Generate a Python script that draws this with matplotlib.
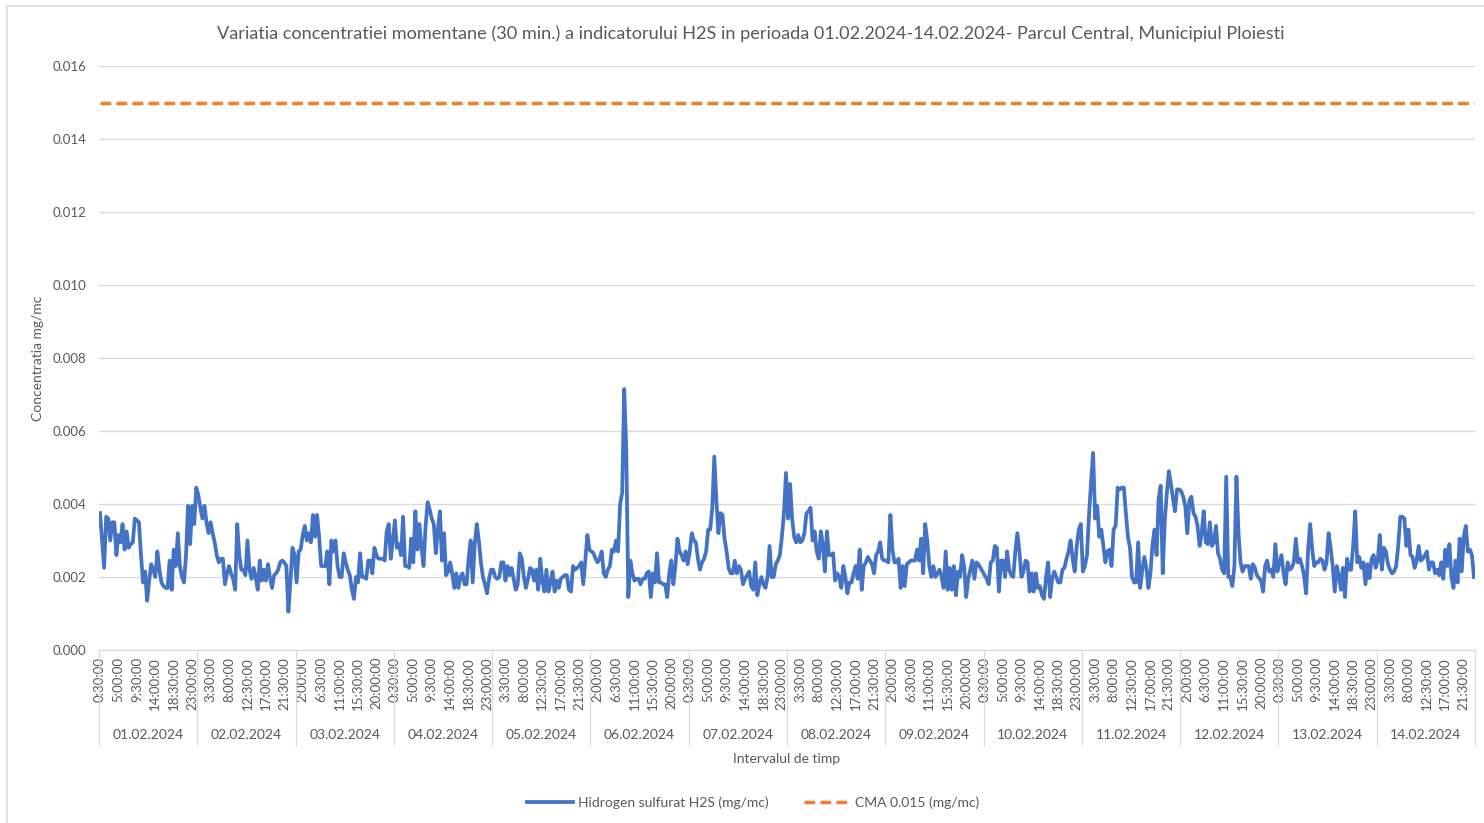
import numpy as np
import pandas as pd
import matplotlib
matplotlib.use('Agg')
import matplotlib.pyplot as plt
import matplotlib.transforms as mtransforms
from matplotlib.lines import Line2D

plt.rcParams['font.family'] = ['Lato', 'DejaVu Sans']

# H2S, 30 min values, in ug/mc (divide by 1000 -> mg/mc)
h2s_01 = [3.75, 3.0, 2.25, 3.65, 3.6, 3.0, 3.5, 3.5, 2.6, 3.15, 2.95, 3.45, 2.75, 3.25, 2.8, 2.9,
          2.95, 3.6, 3.55, 3.5, 2.6, 1.85, 2.15, 1.35, 1.9, 2.35, 2.2, 2.0, 2.7, 2.2, 1.85, 1.75,
          1.7, 1.7, 2.45, 1.65, 2.75, 2.3, 3.2, 2.3, 2.0, 1.85, 2.6, 3.95, 2.9, 3.95, 3.45, 4.45]
h2s_02 = [4.25, 3.9, 3.6, 3.95, 3.5, 3.2, 3.5, 3.2, 2.95, 2.6, 2.4, 2.5, 2.5, 1.8, 2.1, 2.3,
          2.1, 1.95, 1.65, 3.45, 2.6, 2.2, 2.2, 2.05, 3.0, 2.2, 1.95, 2.25, 2.0, 1.65, 2.45, 1.9,
          2.2, 1.9, 2.35, 2.0, 1.7, 2.05, 2.1, 2.2, 2.4, 2.45, 2.4, 2.3, 1.05, 1.9, 2.8, 2.6]
h2s_03 = [1.85, 2.7, 2.75, 3.15, 3.4, 3.0, 3.2, 2.95, 3.7, 3.1, 3.7, 3.1, 2.3, 2.3, 2.3, 2.7,
          1.8, 3.0, 2.7, 3.0, 2.3, 2.0, 2.0, 2.65, 2.4, 2.2, 2.05, 1.65, 1.4, 2.0, 1.85, 2.65,
          2.0, 2.0, 1.95, 2.45, 2.45, 2.1, 2.8, 2.6, 2.5, 2.5, 2.5, 2.45, 3.25, 3.45, 2.5, 3.0]
h2s_04 = [3.55, 2.8, 2.9, 2.6, 3.65, 2.3, 2.3, 2.25, 3.05, 2.4, 3.8, 2.75, 3.45, 2.8, 2.3, 3.4,
          4.05, 3.85, 3.6, 3.45, 2.65, 3.3, 3.8, 2.45, 3.2, 2.05, 2.15, 2.4, 2.1, 1.7, 2.1, 1.7,
          2.0, 2.1, 1.8, 1.8, 2.5, 3.0, 1.85, 2.9, 3.45, 3.0, 2.4, 2.0, 1.8, 1.55, 1.95, 2.2]
h2s_05 = [2.2, 2.0, 1.95, 2.0, 2.4, 2.4, 1.9, 2.3, 2.05, 2.25, 1.95, 1.65, 1.8, 2.65, 2.5, 2.0,
          1.7, 1.95, 2.25, 2.2, 1.9, 2.2, 1.65, 2.5, 1.9, 1.6, 2.2, 1.6, 1.85, 2.15, 1.6, 1.9,
          1.7, 1.95, 2.0, 2.05, 2.05, 1.65, 1.6, 2.3, 2.2, 2.25, 2.3, 2.4, 1.8, 2.45, 3.15, 2.75]
h2s_06 = [2.7, 2.65, 2.5, 2.4, 2.5, 2.7, 2.1, 2.0, 2.2, 2.3, 2.75, 2.7, 3.0, 2.7, 4.0, 4.3,
          7.15, 5.5, 1.45, 2.45, 2.1, 1.9, 1.95, 1.95, 1.8, 1.95, 1.95, 2.1, 2.15, 1.45, 2.1, 1.85,
          2.65, 1.85, 1.85, 1.8, 1.8, 1.45, 2.1, 2.45, 1.8, 2.3, 3.05, 2.7, 2.6, 2.45, 2.7, 2.35]
h2s_07 = [2.7, 3.2, 3.0, 2.95, 2.5, 2.2, 2.4, 2.5, 2.7, 3.3, 3.3, 3.9, 5.3, 4.1, 3.2, 3.75,
          3.7, 3.05, 2.7, 2.25, 2.1, 2.1, 2.45, 2.1, 2.3, 2.2, 1.8, 1.95, 2.05, 2.15, 1.75, 1.65,
          2.4, 1.5, 1.8, 2.0, 1.8, 1.7, 2.0, 2.85, 2.0, 2.0, 2.35, 2.45, 2.6, 3.1, 3.75, 4.85]
h2s_08 = [3.6, 4.55, 3.6, 3.1, 2.95, 3.15, 2.95, 3.0, 3.2, 3.75, 3.8, 3.9, 3.0, 3.25, 2.7, 2.5,
          3.25, 2.9, 2.15, 3.25, 2.6, 2.6, 2.65, 1.9, 2.1, 2.0, 1.7, 2.3, 2.0, 1.55, 1.85, 1.85,
          2.1, 2.3, 1.95, 2.75, 1.65, 2.3, 2.4, 2.55, 2.45, 2.35, 2.1, 2.6, 2.7, 2.95, 2.5, 2.45]
h2s_09 = [2.45, 2.4, 3.7, 2.75, 2.4, 2.4, 2.5, 1.7, 2.3, 1.75, 2.35, 2.4, 2.45, 2.45, 2.45, 2.75,
          2.45, 3.05, 2.1, 3.45, 3.0, 2.3, 2.0, 2.3, 2.0, 2.1, 2.2, 2.0, 1.7, 2.7, 1.65, 2.25,
          1.65, 2.3, 1.5, 2.15, 2.0, 2.6, 2.3, 1.45, 1.95, 2.2, 2.45, 1.95, 2.4, 2.35, 2.25, 2.15]
h2s_10 = [2.05, 1.95, 1.8, 2.4, 2.45, 2.85, 2.8, 1.6, 2.45, 2.45, 2.0, 2.7, 2.2, 2.05, 2.0, 2.7,
          3.2, 2.7, 2.0, 2.15, 2.45, 2.4, 1.6, 2.1, 1.6, 2.1, 1.7, 1.75, 1.5, 1.4, 2.0, 2.4,
          1.45, 1.95, 2.15, 2.0, 1.85, 1.85, 2.2, 2.25, 2.5, 2.7, 3.0, 2.5, 2.15, 2.85, 3.3, 3.45]
h2s_11 = [2.15, 2.3, 2.6, 3.7, 4.6, 5.4, 3.6, 3.95, 3.1, 3.3, 2.85, 2.4, 2.7, 2.75, 2.3, 3.3,
          3.4, 4.45, 4.4, 4.45, 4.45, 3.75, 3.1, 2.8, 2.0, 1.85, 1.85, 2.95, 1.7, 2.2, 2.55, 2.25,
          1.7, 2.1, 2.9, 3.3, 2.6, 4.15, 4.5, 2.1, 3.55, 4.3, 4.9, 4.55, 4.15, 3.8, 4.4, 4.4]
h2s_12 = [4.35, 4.2, 3.95, 3.2, 4.1, 4.2, 3.75, 3.65, 3.4, 2.85, 3.2, 3.8, 2.95, 2.9, 3.5, 2.85,
          2.95, 3.4, 2.65, 2.5, 2.2, 2.1, 4.75, 2.0, 2.0, 1.75, 2.3, 4.75, 3.2, 2.4, 2.15, 2.3,
          2.3, 2.3, 1.95, 2.35, 2.25, 2.05, 1.97, 1.9, 1.6, 2.3, 2.45, 2.15, 2.2, 2.0, 2.9, 2.15]
h2s_13 = [2.4, 2.6, 2.1, 1.8, 2.4, 2.2, 2.25, 2.4, 3.05, 2.4, 2.5, 2.3, 2.05, 1.55, 2.75, 3.45,
          2.75, 2.3, 2.4, 2.4, 2.5, 2.45, 2.2, 2.4, 3.2, 2.8, 2.3, 1.6, 2.3, 2.05, 1.65, 2.25,
          1.45, 2.5, 2.2, 2.2, 2.85, 3.8, 2.4, 2.55, 2.25, 2.4, 1.8, 2.35, 1.97, 2.5, 2.6, 2.25]
h2s_14 = [2.45, 3.15, 2.2, 2.8, 2.7, 2.35, 2.2, 2.1, 2.15, 2.3, 2.85, 3.65, 3.65, 3.6, 2.85, 3.3,
          2.6, 2.55, 2.25, 2.45, 2.85, 2.45, 2.5, 2.6, 2.7, 2.2, 2.4, 2.4, 2.1, 2.2, 2.05, 2.4,
          1.95, 2.75, 2.3, 2.9, 2.0, 1.7, 2.45, 1.85, 3.05, 2.15, 3.1, 3.4, 2.7, 2.75, 2.6, 2.0]

days = ['01.02.2024', '02.02.2024', '03.02.2024', '04.02.2024', '05.02.2024', '06.02.2024',
        '07.02.2024', '08.02.2024', '09.02.2024', '10.02.2024', '11.02.2024', '12.02.2024',
        '13.02.2024', '14.02.2024']
cma = 0.015

h2s = np.concatenate([h2s_01, h2s_02, h2s_03, h2s_04, h2s_05, h2s_06, h2s_07,
                      h2s_08, h2s_09, h2s_10, h2s_11, h2s_12, h2s_13, h2s_14]) / 1000.0
times = pd.date_range('2024-02-01 00:30', periods=len(h2s), freq='30min')
x = np.arange(len(h2s))
per_day = 48

W, H = 1484, 823
grey = '#595959'
light = '#d9d9d9'

fig = plt.figure(figsize=(W / 100, H / 100), dpi=100)
# chart area border (only left and top visible in the picture)
fig.add_artist(Line2D([7 / W, 7 / W], [0, 1 - 6 / H], color=light, lw=1.2))
fig.add_artist(Line2D([7 / W, 1], [1 - 6 / H, 1 - 6 / H], color=light, lw=1.2))

ax = fig.add_axes([99 / W, 1 - 650 / H, 1376 / W, 584 / H])
ax.plot(x, h2s, color='#4472C4', lw=2.7, solid_joinstyle='round',
        label='Hidrogen sulfurat H2S (mg/mc)')
ax.plot(x, np.full(len(x), cma), color='#ED7D31', lw=2.5, dashes=(3.1, 1.5),
        label='CMA 0.015 (mg/mc)')

ax.set_xlim(-0.5, len(x) - 0.5)
ax.set_ylim(0, 0.016)
ax.set_yticks(np.arange(0, 0.0161, 0.002))
ax.set_yticklabels([f'{v:.3f}' for v in np.arange(0, 0.0161, 0.002)])
ax.grid(axis='y', color=light, lw=0.9)
ax.set_axisbelow(True)
for s in ['top', 'right', 'left']:
    ax.spines[s].set_visible(False)
ax.spines['bottom'].set_color(light)
ax.spines['bottom'].set_linewidth(0.9)

tick_pos = x[::9]
tick_lab = [f'{t.hour}:{t.minute:02d}:00' for t in times[::9]]
ax.set_xticks(tick_pos)
ax.set_xticklabels(tick_lab, rotation=90)
ax.tick_params(axis='x', length=0, pad=5, labelsize=9.5, labelcolor=grey)
ax.tick_params(axis='y', length=0, pad=9, labelsize=9.5, labelcolor=grey)

# day groups under the time labels
ah = 584.0
trans = mtransforms.blended_transform_factory(ax.transData, ax.transAxes)
for k in range(len(days) + 1):
    b = k * per_day - 0.5
    ax.plot([b, b], [0, -95 / ah], transform=trans, color=light, lw=0.9, clip_on=False)
for k, d in enumerate(days):
    ax.text(k * per_day + (per_day - 1) / 2, -85 / ah, d, transform=trans,
            ha='center', va='center', fontsize=10, color=grey)

ax.text(0.5, -109 / ah, 'Intervalul de timp', transform=ax.transAxes,
        ha='center', va='center', fontsize=10, color=grey)
fig.text(38 / W, 1 - 358 / H, 'Concentratia mg/mc', rotation=90,
         ha='center', va='center', fontsize=10, color=grey)
fig.text(751 / W, 1 - 34 / H,
         'Variatia concentratiei momentane (30 min.) a indicatorului H2S in perioada '
         '01.02.2024-14.02.2024- Parcul Central, Municipiul Ploiesti',
         ha='center', va='center', fontsize=13.1, color=grey)

fig.legend(loc='center', bbox_to_anchor=(753 / W, 1 - 803 / H), ncol=2, frameon=False,
           fontsize=10, handlelength=3.3, handletextpad=0.35, columnspacing=2.6,
           labelcolor=grey)

fig.savefig('out.png', dpi=100)
